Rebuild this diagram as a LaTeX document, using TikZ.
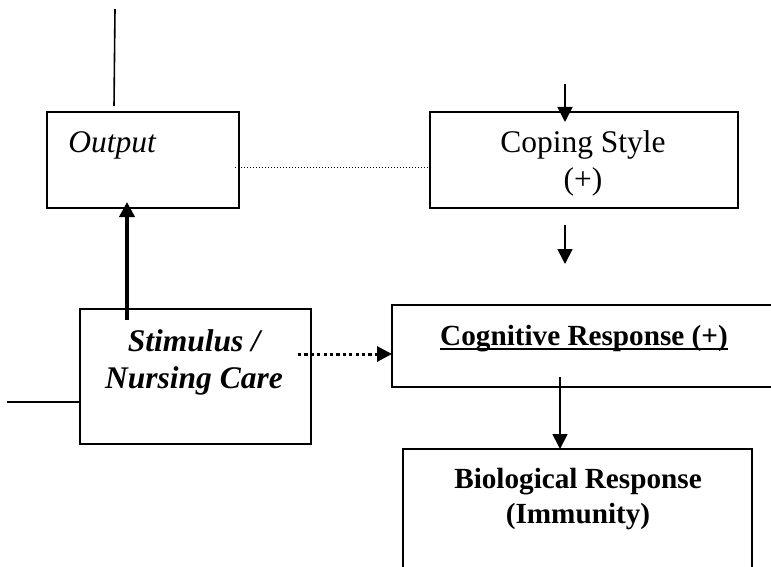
\documentclass[tikz,border=0pt]{standalone}
\usepackage{fontspec}
\setmainfont{Liberation Serif}
\usetikzlibrary{arrows.meta}
\tikzset{every node/.style={align=center, inner sep=0pt}, >={Triangle[length=7.5pt,width=7.5pt]},
  box/.style={draw, line width=1pt},
  txt/.style={font=\fontsize{15.75}{18}\selectfont, anchor=base},
  boldtxt/.style={font=\fontsize{14.6}{17}\selectfont\bfseries, anchor=base},
  plain/.style={line width=0.8pt}}

\begin{document}
\begin{tikzpicture}[x=0.5pt, y=-0.5pt]
    \useasboundingbox (0,0) rectangle (771,567);
    % boxes
    \node [box, minimum width=96pt, minimum height=48pt] (out) at (143,160) {};
    \node [box, minimum width=154pt, minimum height=48pt] (cop) at (584,160) {};
    \node [box, minimum width=115.5pt, minimum height=67.5pt] (stim) at (195.5,376.5) {};
    \coordinate (cogA) at (780,305); \coordinate (cogB) at (392,305);
    \coordinate (cogC) at (392,387); \coordinate (cogD) at (780,387);
    \coordinate (bioA) at (403,575); \coordinate (bioB) at (403,449);
    \coordinate (bioC) at (752,449); \coordinate (bioD) at (752,575);
    \draw [line width=1pt] (cogA) -- (cogB) -- (cogC) -- (cogD);
    \draw [line width=1pt] (bioA) -- (bioB) -- (bioC) -- (bioD);
    % texts
    \node [txt, anchor=base west] (outT) at (68,153) {\itshape Output};
    \node [txt] (copT1) at (583,153) {Coping Style};
    \node [txt] (copT2) at (583,190) {(+)};
    \node [txt] (stimT1) at (194,351) {\bfseries\itshape Stimulus /};
    \node [txt] (stimT2) at (194,388) {\bfseries\itshape Nursing Care};
    \node [boldtxt] (cogT) at (584,345) {Cognitive Response (+)};
    \draw [line width=1pt] ([yshift=-2pt]cogT.base west) -- ([yshift=-2pt]cogT.base east);
    \node [boldtxt] (bioT1) at (578,488) {Biological Response};
    \node [boldtxt] (bioT2) at (578,523) {(Immunity)};
    % free ends
    \coordinate (top) at (115,9);
    \coordinate (left) at (7,402);
    \coordinate (copIn) at (565,84);
    \coordinate (copOut1) at (565,225);
    \coordinate (copOut2) at (565,264);
    \coordinate (cogOut) at (560,377);
    % connectors
    \draw [plain] (top) -- ([shift={(68,-5)}]out.north west);
    \draw [plain] (left) -- ([shift={(0,25.5)}]stim.west);
    \draw [->, line width=0.9pt] (copIn) -- ([shift={(-19,11)}]cop.north);
    \draw [->, line width=0.9pt] (copOut1) -- (copOut2);
    \draw [line width=0.5pt, dash pattern=on 0.5pt off 1pt] ([shift={(-5,7)}]out.east) -- ([shift={(0,7)}]cop.west);
    \draw [->, line width=1.8pt] ([shift={(48,12)}]stim.north west) -- ([shift={(81,-7)}]out.south west);
    \draw [->, line width=1.5pt, dash pattern=on 1.6pt off 1.6pt] ([shift={(-14,-22.5)}]stim.east) -- (cogB |- 0,354);
    \draw [->, line width=0.9pt] (cogOut) -- (bioB -| cogOut);
\end{tikzpicture}
\end{document}
